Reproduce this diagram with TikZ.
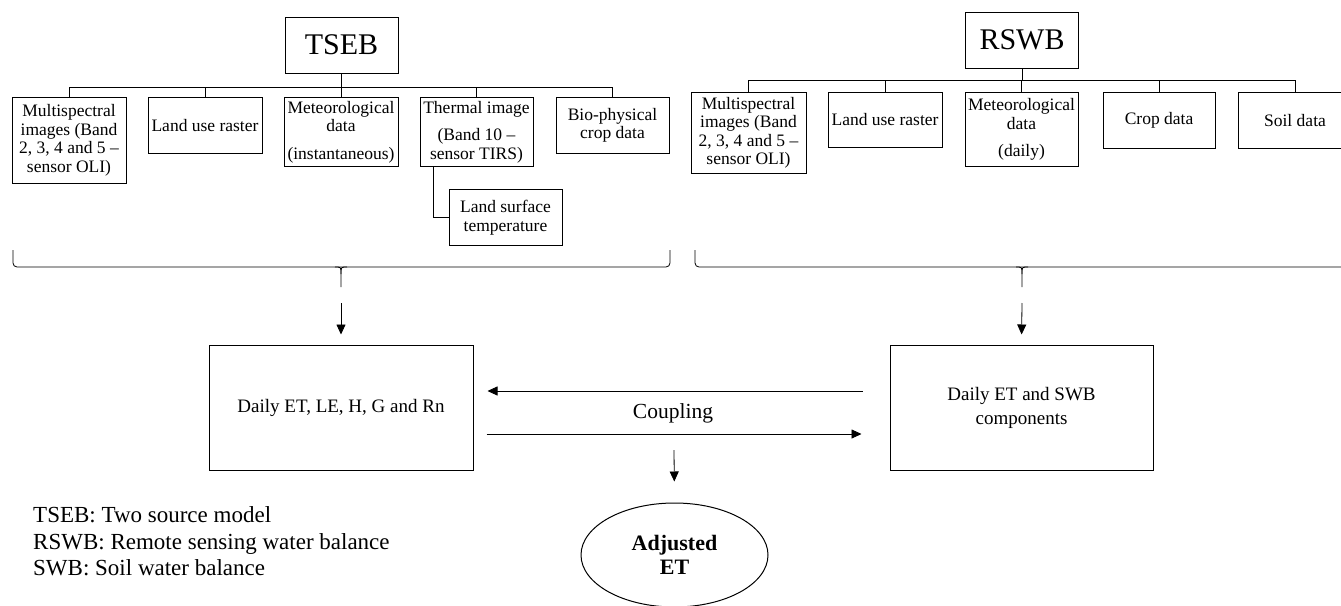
\documentclass[tikz,border=0pt]{standalone}
\usepackage{fontspec}
\setmainfont{Liberation Serif}
\usepackage{tikz}
\usetikzlibrary{shapes,arrows.meta,positioning,calc}

\begin{document}
\begin{tikzpicture}[x=1pt, y=-1pt,
    box/.style={draw, line width=1pt, inner sep=1pt, align=center, anchor=north,
        font=\fontsize{17.5}{18.5}\selectfont},
    head/.style={draw, line width=1pt, minimum width=113pt, minimum height=56pt,
        font=\fontsize{30}{32}\selectfont},
    result/.style={draw, line width=1pt, minimum width=264pt, minimum height=125pt,
        align=center, font=\fontsize{19}{24}\selectfont},
    link/.style={line width=1pt},
    arr/.style={line width=0.8pt, -{Triangle[length=10pt,width=9pt]}}]
    \useasboundingbox (0,0) rectangle (1341,605);
    \fill[white] (0,0) rectangle (1341,605);

    % TSEB inputs
    \node[head] (tseb) at (341.5,45) {TSEB};
    \node[box, minimum width=114pt, minimum height=86pt] (lms) at (69,97)
        {Multispectral\\images (Band\\2, 3, 4 and 5 --\\sensor OLI)};
    \node[box, minimum width=114pt, minimum height=56pt] (llu) at (205,97) {Land use raster};
    \node[box, minimum width=114pt, minimum height=69pt] (lmet) at (341,97)
        {Meteorological\\data\\[9pt](instantaneous)};
    \node[box, minimum width=113pt, minimum height=69pt] (lthm) at (476.5,97)
        {Thermal image\\[9pt](Band 10 --\\sensor TIRS)};
    \node[box, minimum width=113pt, minimum height=56pt] (lbio) at (612.5,97) {Bio-physical\\crop data};
    \node[box, minimum width=113pt, minimum height=56pt] (llst) at (505.5,189) {Land surface\\temperature};

    \coordinate (lbus) at (0,87);
    \draw[link] (tseb.south) -- (tseb.south |- lbus);
    \draw[link] (lms.north |- lbus) -- (lbio.north |- lbus);
    \foreach \n in {lms,llu,lmet,lthm,lbio}
        \draw[link] (\n.north) -- (\n.north |- lbus);
    \draw[link] ([xshift=14pt]lthm.south west) |- (llst.west);

    % RSWB inputs
    \node[head] (rswb) at (1022,40) {RSWB};
    \node[box, minimum width=115pt, minimum height=81pt] (rms) at (748.5,92)
        {Multispectral\\images (Band\\2, 3, 4 and 5 --\\sensor OLI)};
    \node[box, minimum width=114pt, minimum height=55pt] (rlu) at (885,92) {Land use raster};
    \node[box, minimum width=113pt, minimum height=74pt] (rmet) at (1021.5,92)
        {Meteorological\\data\\[9pt](daily)};
    \node[box, minimum width=112pt, minimum height=56pt] (rcrop) at (1159,92) {Crop data};
    \node[box, minimum width=114pt, minimum height=56pt] (rsoil) at (1295,92) {Soil data};

    \coordinate (rbus) at (0,80);
    \draw[link] (rswb.south) -- (rswb.south |- rbus);
    \draw[link] (rms.north |- rbus) -- (rsoil.north |- rbus);
    \foreach \n in {rms,rlu,rmet,rcrop,rsoil}
        \draw[link] (\n.north) -- (\n.north |- rbus);

    % braces
    \foreach \c/\l/\r in {341/13/670, 1022/695/1349}{
        \draw[line width=0.8pt, rounded corners=4pt] (\l,250) -- (\l,267) -- (\r,267) -- (\r,250);
        \draw[line width=0.8pt] (\c-6,267) .. controls (\c,267) .. (\c,274) -- (\c,287);
        \draw[line width=0.8pt] (\c+6,267) .. controls (\c,267) .. (\c,274);
    }

    % outputs
    \node[result] (tsebout) at (341,407.5) {Daily ET, LE, H, G and Rn};
    \node[result, minimum width=263pt] (rswbout) at (1021.5,407.5) {Daily ET and SWB\\components};
    \coordinate (lin) at (341,303);
    \coordinate (rin) at (1022,303);
    \draw[arr, shorten >=10pt] (lin) -- (tsebout.north);
    \draw[arr, shorten >=10pt] (rin) -- (rswbout.north);

    % coupling
    \node[font=\fontsize{21.5}{24}\selectfont] (coupling) at (673,413) {Coupling};
    \draw[arr, shorten <=27pt, shorten >=14pt] ($(rswbout.west)+(0,-16.5)$) -- ($(tsebout.east)+(0,-16.5)$);
    \draw[arr, shorten <=13pt, shorten >=28pt] ($(tsebout.east)+(0,26.5)$) -- ($(rswbout.west)+(0,26.5)$);

    \node[draw, ellipse, line width=1pt, minimum width=187pt, minimum height=104pt, inner sep=0pt,
        align=center, font=\bfseries\fontsize{22}{24}\selectfont] (adj) at (674.5,555) {Adjusted\\ET};
    \coordinate (cdown) at (674,450);
    \draw[arr, shorten >=21pt] (cdown) -- (adj.north);

    % key
    \node[anchor=west, align=left, inner sep=0pt, font=\fontsize{23}{26.5}\selectfont] (key) at (33,541.5)
        {TSEB: Two source model\\RSWB: Remote sensing water balance\\SWB: Soil water balance};
\end{tikzpicture}
\end{document}
